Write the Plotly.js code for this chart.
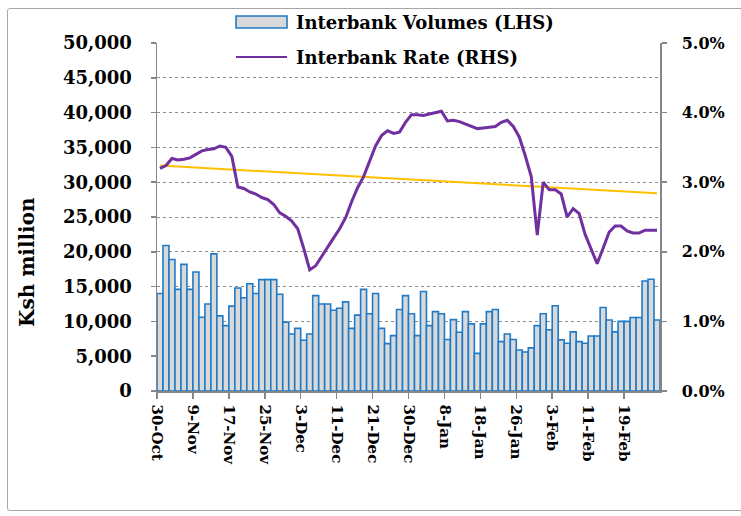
<!DOCTYPE html>
<html>
<head>
<meta charset="utf-8">
<script src="https://cdn.plot.ly/plotly-3.0.1.min.js"></script>
<style>
  html, body { margin: 0; padding: 0; background: #ffffff; }
  #wrap { position: relative; width: 741px; height: 516px; overflow: hidden; }
  #chart { position: absolute; left: 0; top: 0; width: 741px; height: 516px; }
  #frame { position: absolute; left: 7px; top: 8px; width: 745px; height: 501px;
           border: 1px solid #a6a6a6; border-radius: 3px; pointer-events: none; }
</style>
</head>
<body>
<div id="wrap">
  <div id="chart"></div>
  <div id="frame"></div>
</div>
<script>
// Interbank volumes (Ksh million), one bar per business day, 30-Oct to 26-Feb
const volumes = [
  14000, 20900, 18900, 14600, 18200, 14600, 17100, 10600, 12500, 19700,
  10800, 9400, 12200, 14800, 13400, 15400, 14000, 16000, 16000, 16000,
  13900, 9900, 8200, 9000, 7300, 8200, 13700, 12500, 12500, 11600,
  11900, 12800, 9000, 10900, 14600, 11100, 14000, 9000, 6800, 7950,
  11700, 13700, 11100, 7950, 14300, 9400, 11400, 11100, 7400, 10250,
  8450, 11400, 9650, 5400, 9650, 11400, 11700, 7100, 8200, 7400,
  5900, 5600, 6200, 9400, 11100, 8800, 12250, 7350, 6850, 8500,
  7100, 6850, 7900, 7900, 12000, 10200, 8500, 10000, 10000, 10550,
  10550, 15800, 16050, 10200
];
// Interbank rate (%), same days
const rates = [
  3.20, 3.24, 3.34, 3.32, 3.33, 3.35, 3.40, 3.45, 3.47, 3.48,
  3.52, 3.50, 3.37, 2.93, 2.91, 2.86, 2.83, 2.78, 2.75, 2.68,
  2.56, 2.51, 2.44, 2.33, 2.05, 1.74, 1.80, 1.94, 2.07, 2.20,
  2.33, 2.49, 2.72, 2.92, 3.08, 3.30, 3.52, 3.67, 3.74, 3.70,
  3.72, 3.86, 3.97, 3.97, 3.96, 3.98, 4.00, 4.02, 3.88, 3.89,
  3.87, 3.84, 3.81, 3.77, 3.78, 3.79, 3.80, 3.86, 3.89, 3.80,
  3.65, 3.38, 3.08, 2.24, 3.00, 2.89, 2.89, 2.83, 2.50, 2.62,
  2.55, 2.25, 2.05, 1.83, 2.05, 2.28, 2.37, 2.37, 2.30, 2.27,
  2.27, 2.31, 2.31, 2.31
];
// Linear trend of the rate (start, end), %
const trendEnds = [3.24, 2.84];
// Tick labels, one every 6 business days
const tickLabels = ["30-Oct", "9-Nov", "17-Nov", "25-Nov", "3-Dec", "11-Dec", "21-Dec",
                    "30-Dec", "8-Jan", "18-Jan", "26-Jan", "3-Feb", "11-Feb", "19-Feb"];
const seriesNames = ["Interbank Volumes (LHS)", "Interbank Rate (RHS)"];
const yTitle = "Ksh million";

const n = volumes.length;
const xs = volumes.map((_, i) => i);
const tickStep = 6;
const tickVals = tickLabels.map((_, k) => k * tickStep - 0.5);

const FONT = "DejaVu Serif";
const AXIS = "#868686";

// plot area in pixels: x 157..660, y 43..391
const L = 157, R = 660, T = 43, B = 391;
const px = v => (v - L) / (R - L);
const py = v => (B - v) / (B - T);

const traces = [
  {
    type: "bar", x: xs, y: volumes, name: seriesNames[0],
    marker: { color: "#D9D9D9", line: { color: "#1F7BC8", width: 1.6 } },
    width: 1, yaxis: "y", hoverinfo: "skip"
  },
  {
    type: "scatter", mode: "lines", x: [xs[0], xs[n - 1]], y: trendEnds,
    line: { color: "#FFC000", width: 2 }, yaxis: "y2", hoverinfo: "skip"
  },
  {
    type: "scatter", mode: "lines", x: xs, y: rates, name: seriesNames[1],
    line: { color: "#7030A0", width: 3 }, yaxis: "y2", hoverinfo: "skip"
  }
];

const yFont = { family: FONT, size: 18, color: "#000000", weight: "bold" };
const y2Font = { family: FONT, size: 16, color: "#000000", weight: "bold" };
const xFont = { family: FONT, size: 15, color: "#000000", weight: "bold" };

const layout = {
  width: 741, height: 516,
  margin: { l: L, r: 741 - R, t: T, b: 516 - B, pad: 0 },
  paper_bgcolor: "rgba(0,0,0,0)", plot_bgcolor: "rgba(0,0,0,0)",
  showlegend: false, bargap: 0,
  xaxis: {
    range: [-0.5, n - 0.5], tickmode: "array", tickvals: tickVals, ticktext: tickLabels,
    tickangle: 90, ticks: "outside", ticklen: 6, tickcolor: AXIS, tickwidth: 1.5,
    showline: true, linecolor: AXIS, linewidth: 1.5, showgrid: false, zeroline: false,
    tickfont: xFont, ticklabelstandoff: 3
  },
  yaxis: {
    range: [0, 50000], dtick: 5000, tick0: 0, tickformat: ",d",
    ticks: "outside", ticklen: 5, tickcolor: AXIS, tickwidth: 1.5,
    showline: true, linecolor: AXIS, linewidth: 1.5,
    showgrid: true, gridcolor: "#8c8c8c", griddash: "dot", gridwidth: 1,
    zeroline: false, tickfont: yFont, ticklabelstandoff: 15
  },
  yaxis2: {
    range: [0, 5], dtick: 1, tick0: 0, tickformat: ".1f", ticksuffix: "%",
    overlaying: "y", side: "right", anchor: "x",
    ticks: "outside", ticklen: 5, tickcolor: AXIS, tickwidth: 1.5,
    showline: true, linecolor: AXIS, linewidth: 1.5, showgrid: false, zeroline: false,
    tickfont: y2Font, ticklabelstandoff: 12
  },
  shapes: [
    { type: "rect", xref: "paper", yref: "paper",
      x0: px(236), x1: px(287), y0: py(28), y1: py(16),
      fillcolor: "#D9D9D9", line: { color: "#1F7BC8", width: 1.6 } },
    { type: "line", xref: "paper", yref: "paper",
      x0: px(236), x1: px(287), y0: py(57), y1: py(57),
      line: { color: "#7030A0", width: 2 } }
  ],
  annotations: [
    { xref: "paper", yref: "paper", x: px(294), y: py(22), xanchor: "left", yanchor: "middle",
      text: seriesNames[0], showarrow: false,
      font: { family: FONT, size: 18, color: "#000000", weight: "bold" } },
    { xref: "paper", yref: "paper", x: px(294), y: py(57), xanchor: "left", yanchor: "middle",
      text: seriesNames[1], showarrow: false,
      font: { family: FONT, size: 18, color: "#000000", weight: "bold" } },
    { xref: "paper", yref: "paper", x: px(27), y: py(262), xanchor: "center", yanchor: "middle",
      text: yTitle, textangle: -90, showarrow: false,
      font: { family: FONT, size: 20, color: "#000000", weight: "bold" } }
  ]
};

Plotly.newPlot("chart", traces, layout, { staticPlot: true, displayModeBar: false });
</script>
</body>
</html>
